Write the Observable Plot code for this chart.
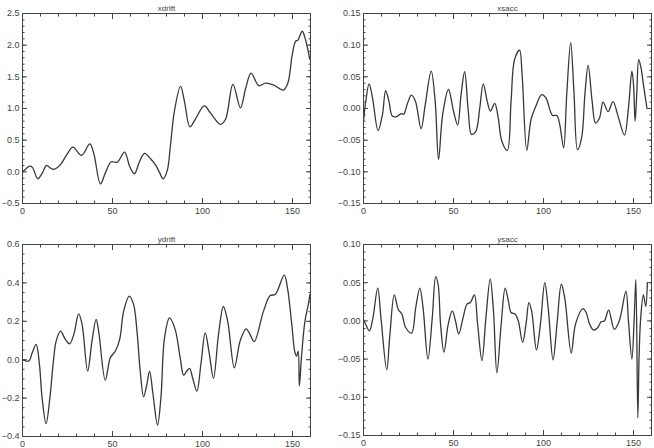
<!DOCTYPE html>
<html><head><meta charset="utf-8">
<script src="https://cdn.jsdelivr.net/npm/d3@7"></script>
<script src="https://cdn.jsdelivr.net/npm/@observablehq/plot@0.6"></script>
<style>
body{margin:0;background:#fff;}
#wrap{position:relative;width:654px;height:448px;overflow:hidden;background:#fff;}
#wrap>div{position:absolute;}
</style></head><body><div id="wrap"></div>
<script>
// ---- data ----
const xdriftX = [0,2,4,5.5,8.5,11,13.3,15.5,17.4,21,24.8,28,32.8,37.4,39.6,43.3,46,49.3,52.6,56.7,59.6,62.2,65,67.8,71,73.9,76.3,78.1,80.4,82.2,84.4,87.8,90,93,96,101,104.4,110,112.8,116.9,121.1,124,127,131.3,135,139.6,144.8,147.4,149.8,151.7,153,155.4,157.2,159.6];
const xdriftY = [0.0,0.05,0.09,0.07,-0.11,-0.02,0.10,0.06,0.04,0.11,0.28,0.39,0.26,0.44,0.29,-0.19,-0.02,0.16,0.15,0.31,0.08,-0.03,0.16,0.29,0.21,0.11,-0.02,-0.11,0.02,0.42,0.96,1.35,1.11,0.71,0.83,1.04,0.93,0.75,0.83,1.38,1.01,1.32,1.56,1.36,1.40,1.37,1.29,1.40,1.84,2.06,2.08,2.22,2.09,1.78];

const xsaccX = [0,1.2,3.1,5,8.1,10.5,12.3,14.1,16,18.4,20.9,22.4,24.2,26.6,28.8,32,34.3,37.6,39.8,41.7,44,47.2,50,52.3,54.2,56.2,58.2,60,62.4,64.6,66.5,68.7,70.5,72.9,74.7,76.9,79.9,82,83.9,86.7,88.1,90.7,93.1,95.8,99,101.3,105,107.4,109,111.2,112.9,115.1,116.9,118.9,121.2,123,124.8,127,128.9,131.1,133.1,135.9,138.6,141.7,145,147.2,149.1,150,150.9,151.8,152.9,154.2,155.4,157.5];
const xsaccY = [-0.02,0.01,0.039,0.017,-0.035,-0.01,0.028,0.012,-0.012,-0.013,-0.008,-0.009,0.006,0.021,0.012,-0.032,0.006,0.059,0.012,-0.08,-0.009,0.03,-0.004,-0.026,0.022,0.058,-0.004,-0.041,-0.036,0.001,0.039,0.012,-0.004,0.008,-0.012,-0.052,-0.066,0.012,0.077,0.092,0.054,-0.066,-0.017,0.004,0.022,0.017,-0.011,-0.011,-0.025,-0.062,0.022,0.104,0.027,-0.065,-0.046,0.022,0.068,0.012,-0.023,-0.015,0.01,-0.005,0.011,-0.015,-0.042,0.001,0.059,0.038,-0.02,0.022,0.077,0.064,0.04,0.0];

const ydriftX = [0,3.5,5.4,7.6,9.4,10.9,13.1,15.2,17,18.7,21.1,23.8,26.2,28.5,31.2,33.1,36.2,38.6,40.9,42.3,46,48.8,51.6,54,56.2,59.3,61.7,63.6,65.4,67.3,69.1,70.6,72.5,75,76.9,78.9,81.7,84.8,87.6,89.5,91.3,92.8,94.5,96.9,99.1,101.5,103.7,106.1,108.9,111.6,114,117.7,120.9,124.2,126.4,128.7,133.9,137.6,140.4,145.4,147.2,149.6,151.4,152.3,153.2,153.8,155.1,156.9,158.8,159.7];
const ydriftY = [0.0,-0.007,0.036,0.08,-0.024,-0.2,-0.333,-0.2,-0.024,0.097,0.149,0.106,0.083,0.132,0.239,0.184,-0.059,0.097,0.21,0.149,-0.107,0.01,0.045,0.106,0.253,0.331,0.288,0.149,-0.059,-0.194,-0.128,-0.059,-0.18,-0.34,-0.198,0.114,0.218,0.158,0.01,-0.08,-0.059,-0.045,-0.094,-0.163,-0.024,0.14,0.036,-0.097,0.132,0.277,0.2,-0.042,0.097,0.161,0.132,0.094,0.253,0.334,0.34,0.44,0.374,0.184,0.036,0.019,0.045,-0.137,0.028,0.2,0.288,0.34];

const ysaccX = [0,1.5,3.3,5.1,7.9,9.7,12.9,14.7,17.1,19.3,21.3,23.5,26.7,29,31.3,33.1,35.8,38.2,40.1,41.5,42.8,44.7,47.1,49.3,51.1,52.9,55.3,57.5,59.4,61.6,63.4,65.8,68,70.4,72.2,74.1,76.5,78.7,80.5,82,84.2,86,88.4,90.3,91.9,93.4,96.1,98.3,100.7,102.6,105.3,107.5,109.9,111.8,115.4,117.8,121.9,123.7,125.6,127.8,130.1,132,133.8,136.2,139.3,142.1,145.8,147.2,149.1,150.4,151.3,152.4,153.1,154,155.5,156.8,157.7];
const ysaccY = [0.002,-0.006,-0.013,0.002,0.043,0.004,-0.064,-0.017,0.034,0.015,0.009,-0.009,-0.016,0.017,0.043,0.017,-0.05,0.004,0.058,0.047,-0.004,-0.041,-0.004,0.013,0,-0.017,0.004,0.022,0.024,0.034,-0.004,-0.052,0.004,0.055,0.013,-0.068,-0.004,0.043,0.026,0.011,0.009,0,-0.028,-0.004,0.024,0.013,-0.038,-0.004,0.05,0.017,-0.051,-0.004,0.048,0.03,-0.042,-0.004,0.016,0.011,-0.004,-0.012,-0.009,-0.001,0,0.014,-0.011,0,0.039,0,-0.05,0.004,0.054,-0.127,-0.047,0.004,0.034,0.019,0.05];

// ---- tick labels ----
const xTicks = [0, 50, 100, 150];
const xdriftTicks = [-0.5, 0, 0.5, 1.0, 1.5, 2.0, 2.5];
const xsaccTicks = [-0.15, -0.10, -0.05, 0, 0.05, 0.10, 0.15];
const ydriftTicks = [-0.4, -0.2, 0, 0.2, 0.4, 0.6];
const ysaccTicks = [-0.15, -0.10, -0.05, 0, 0.05, 0.10];

const ink = "#444";
const xMinor = d3.range(0, 161, 10);

function tickAxis(axisFn, anchor, ticks, len) {
  const shift = {bottom: {dy: -len}, top: {dy: len}, left: {dx: len}, right: {dx: -len}}[anchor];
  return axisFn({ticks, anchor, tickSize: len, tickFormat: () => "", label: null, stroke: ink, ...shift});
}

function panel({title, xs, ys, yDomain, yMajor, yMinorStep, fmt, left, top, margins, titleDy}) {
  const data = xs.map((x, i) => ({x, y: ys[i]}));
  const yMinor = d3.range(Math.round(yDomain[0] / yMinorStep), Math.round(yDomain[1] / yMinorStep) + 1).map(k => k * yMinorStep);
  const f = d3.format(fmt);
  const svg = Plot.plot({
    width: 327, height: 224, ...margins,
    x: {domain: [0, 160]},
    y: {domain: yDomain},
    style: {background: "white", fontFamily: "'Liberation Sans', Arial, sans-serif", fontSize: "9px", color: ink, overflow: "visible"},
    marks: [
      Plot.line(data, {x: "x", y: "y", curve: "catmull-rom", stroke: "#383838", strokeWidth: 1.3}),
      Plot.frame({stroke: ink, strokeWidth: 1}),
      tickAxis(Plot.axisX, "bottom", xTicks, 5),
      tickAxis(Plot.axisX, "top", xTicks, 5),
      tickAxis(Plot.axisX, "bottom", xMinor, 2.5),
      tickAxis(Plot.axisX, "top", xMinor, 2.5),
      tickAxis(Plot.axisY, "left", yMajor, 5),
      tickAxis(Plot.axisY, "right", yMajor, 5),
      tickAxis(Plot.axisY, "left", yMinor, 2.5),
      tickAxis(Plot.axisY, "right", yMinor, 2.5),
      Plot.axisX({ticks: xTicks, anchor: "bottom", tickSize: 0, tickPadding: 4, label: null, tickFormat: d => String(d), fill: ink}),
      Plot.axisY({ticks: yMajor, anchor: "left", tickSize: 0, tickPadding: 3, label: null, tickFormat: f, fill: ink}),
      Plot.text([title], {text: d => d, frameAnchor: "top", dy: titleDy, fill: ink, fontSize: 8})
    ]
  });
  const holder = document.createElement("div");
  holder.style.left = left + "px";
  holder.style.top = top + "px";
  holder.appendChild(svg);
  document.getElementById("wrap").appendChild(holder);
}

panel({title: "xdrift", xs: xdriftX, ys: xdriftY, yDomain: [-0.5, 2.5], yMajor: xdriftTicks, yMinorStep: 0.1, fmt: ".1f",
  left: 0, top: 0, margins: {marginLeft: 22, marginRight: 17, marginTop: 13, marginBottom: 21}, titleDy: -8});
panel({title: "xsacc", xs: xsaccX, ys: xsaccY, yDomain: [-0.15, 0.15], yMajor: xsaccTicks, yMinorStep: 0.01, fmt: ".2f",
  left: 327, top: 0, margins: {marginLeft: 36, marginRight: 3, marginTop: 13, marginBottom: 21}, titleDy: -8});
panel({title: "ydrift", xs: ydriftX, ys: ydriftY, yDomain: [-0.4, 0.6], yMajor: ydriftTicks, yMinorStep: 0.05, fmt: ".1f",
  left: 0, top: 224, margins: {marginLeft: 22, marginRight: 17, marginTop: 20, marginBottom: 12}, titleDy: -8});
panel({title: "ysacc", xs: ysaccX, ys: ysaccY, yDomain: [-0.15, 0.10], yMajor: ysaccTicks, yMinorStep: 0.01, fmt: ".2f",
  left: 327, top: 224, margins: {marginLeft: 36, marginRight: 3, marginTop: 20, marginBottom: 13}, titleDy: -8});
</script>
</body></html>
